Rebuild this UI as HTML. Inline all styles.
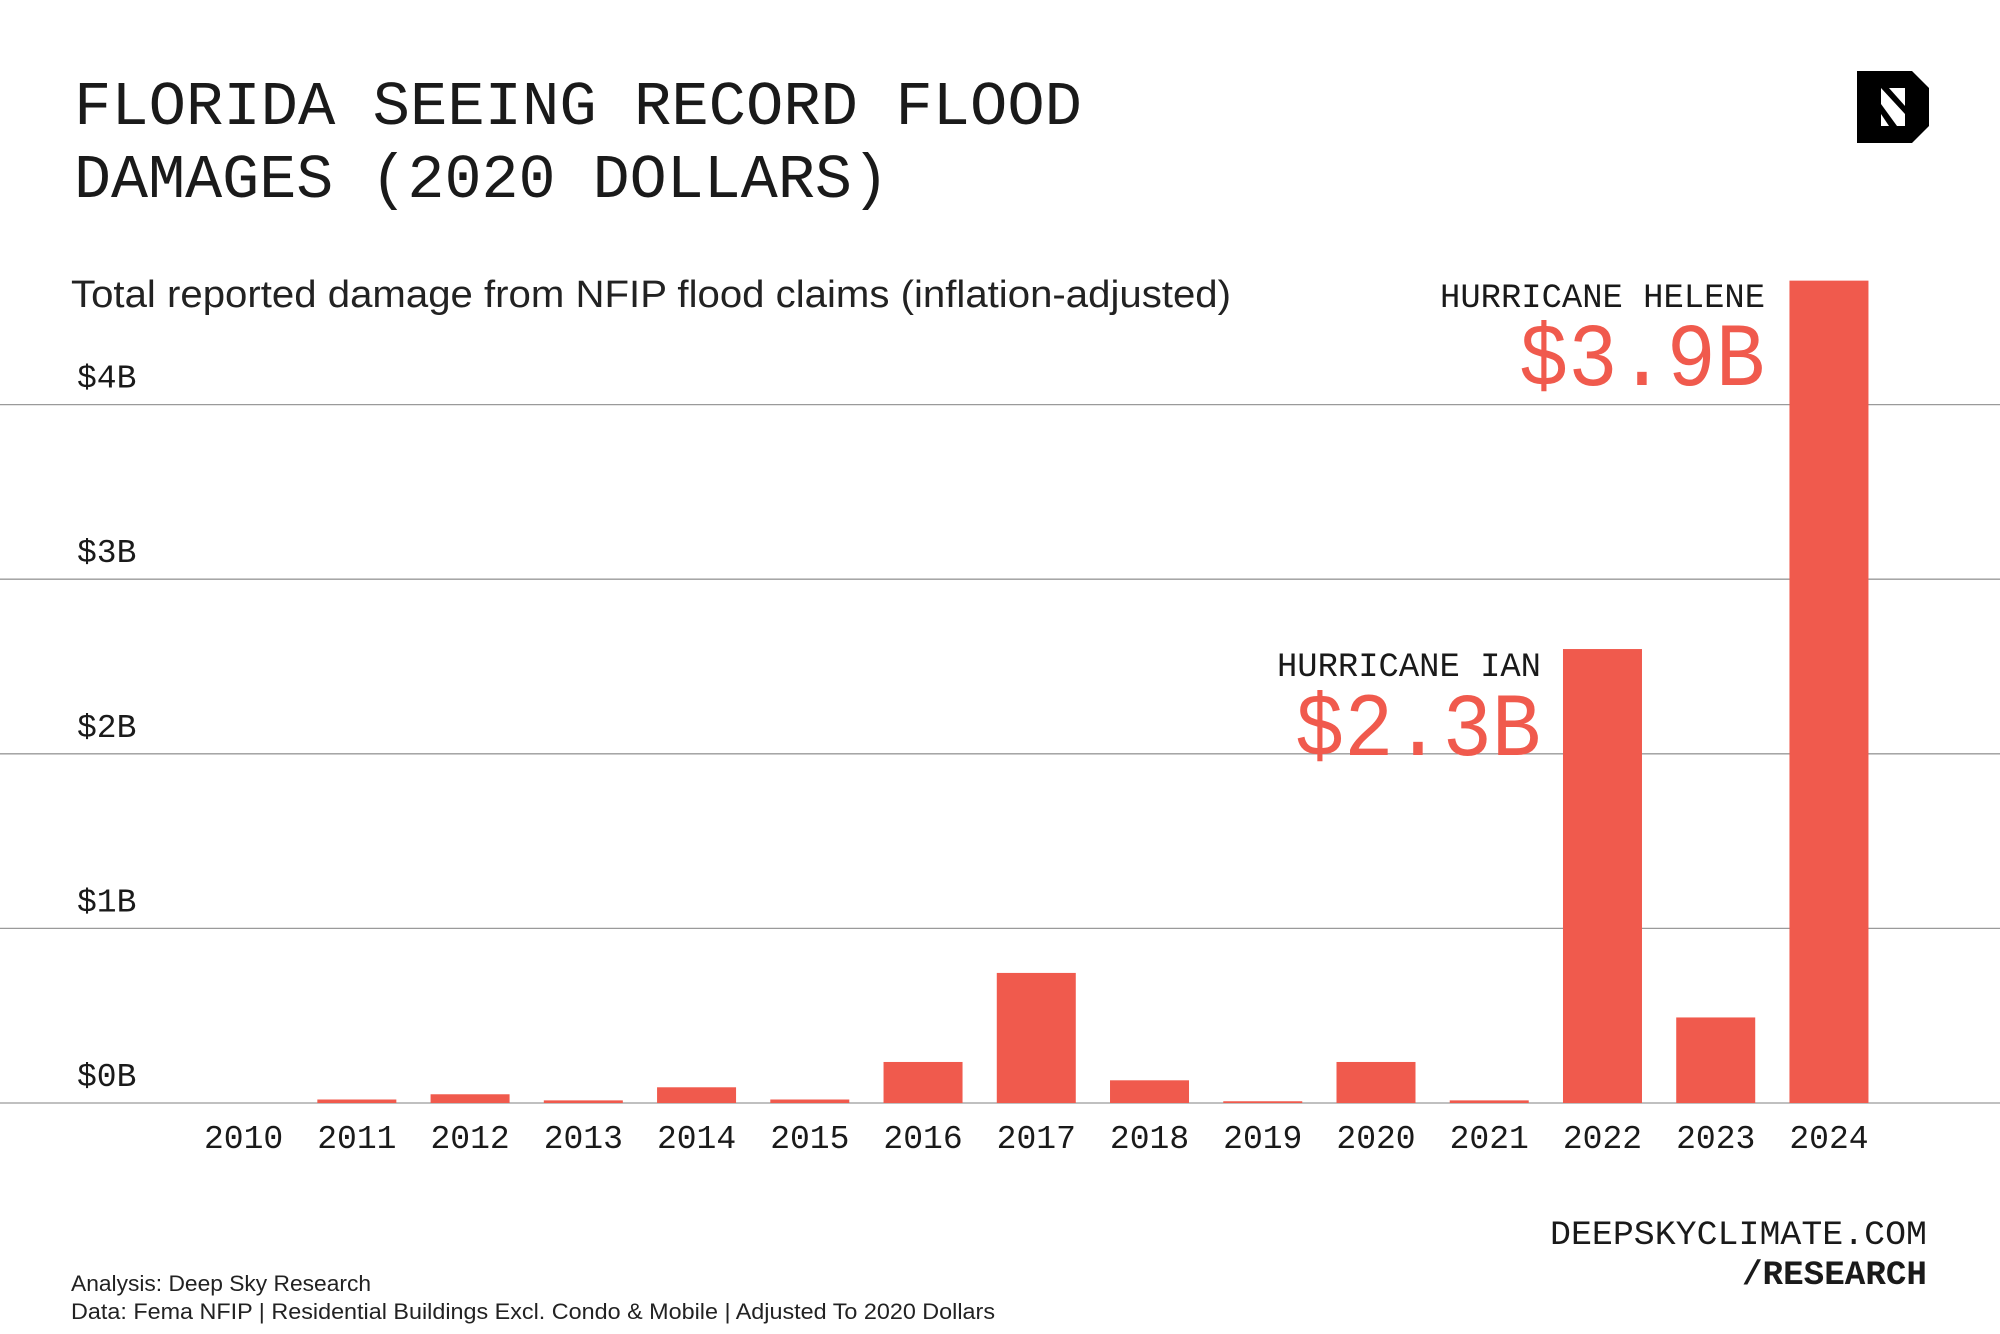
<!DOCTYPE html>
<html><head><meta charset="utf-8"><style>
html,body{margin:0;padding:0;background:#fff;}
svg{display:block;}
.mono{font-family:"Liberation Mono",monospace;}
.sans{font-family:"Liberation Sans",sans-serif;}
</style></head><body>
<svg id="chart" width="2000" height="1334" viewBox="0 0 2000 1334">
<text class="mono" x="74" y="124" font-size="62" fill="#1a1a1a" textLength="1008" lengthAdjust="spacingAndGlyphs">FLORIDA SEEING RECORD FLOOD</text>
<text class="mono" x="74" y="197" font-size="62" fill="#1a1a1a" textLength="815" lengthAdjust="spacingAndGlyphs">DAMAGES (2020 DOLLARS)</text>
<text class="sans" x="71" y="307" font-size="38" fill="#222" textLength="1160" lengthAdjust="spacingAndGlyphs">Total reported damage from NFIP flood claims (inflation-adjusted)</text>
<g>
<polygon points="1857,71 1912,71 1929,88 1929,126 1912,143 1857,143" fill="#000"/>
<rect x="1881" y="88" width="24" height="38" fill="#fff"/>
<polygon points="1881,88 1889,88 1905,106 1905,114" fill="#000"/>
<polygon points="1881,104 1897,126 1889,126 1881,114" fill="#000"/>
</g>
<g id="grid"></g><g id="bars"></g><g id="xlabels"></g>
<g>
<text class="mono" x="1765" y="307" font-size="34" fill="#1a1a1a" text-anchor="end" textLength="325" lengthAdjust="spacingAndGlyphs">HURRICANE HELENE</text>
<text class="mono" x="1765" y="385" font-size="90" fill="#f05a4d" text-anchor="end" textLength="246" lengthAdjust="spacingAndGlyphs">$3.9B</text>
</g>
<g>
<text class="mono" x="1541" y="676" font-size="34" fill="#1a1a1a" text-anchor="end" textLength="264" lengthAdjust="spacingAndGlyphs">HURRICANE IAN</text>
<text class="mono" x="1541" y="755" font-size="90" fill="#f05a4d" text-anchor="end" textLength="246" lengthAdjust="spacingAndGlyphs">$2.3B</text>
</g>
<text class="mono" x="1927" y="1244" font-size="34" fill="#1a1a1a" text-anchor="end" textLength="377" lengthAdjust="spacingAndGlyphs">DEEPSKYCLIMATE.COM</text>
<text class="mono" x="1927" y="1284" font-size="34" font-weight="bold" fill="#1a1a1a" text-anchor="end" textLength="185" lengthAdjust="spacingAndGlyphs">/RESEARCH</text>
<text class="sans" x="71" y="1291" font-size="22" fill="#222" textLength="300" lengthAdjust="spacingAndGlyphs">Analysis: Deep Sky Research</text>
<text class="sans" x="71" y="1319" font-size="22" fill="#222" textLength="924" lengthAdjust="spacingAndGlyphs">Data: Fema NFIP | Residential Buildings Excl. Condo &amp; Mobile | Adjusted To 2020 Dollars</text>
</svg>
<script>
const years = ["2010","2011","2012","2013","2014","2015","2016","2017","2018","2019","2020","2021","2022","2023","2024"];
const damageB = [0,0.02,0.05,0.015,0.09,0.02,0.235,0.745,0.13,0.01,0.235,0.015,2.6,0.49,4.71];
const yTicks = [0,1,2,3,4];
const yTickLabels = ["$0B","$1B","$2B","$3B","$4B"];
const NS="http://www.w3.org/2000/svg";
const y0=1103, perB=174.6;
const yScale=v=>y0-v*perB;
const x0=243.6, step=113.24;
const xScale=i=>x0+i*step;
const barW=79;
const grid=document.getElementById('grid');
yTicks.forEach((t,i)=>{
  const l=document.createElementNS(NS,'line');
  l.setAttribute('x1',0);l.setAttribute('x2',2000);
  l.setAttribute('y1',yScale(t));l.setAttribute('y2',yScale(t));
  l.setAttribute('stroke','#9a9a9a');l.setAttribute('stroke-width','1.3');
  
  
  grid.appendChild(l);
  const tx=document.createElementNS(NS,'text');
  tx.setAttribute('x',77);tx.setAttribute('y',yScale(t)-17);
  tx.setAttribute('class','mono');tx.setAttribute('font-size','33');tx.setAttribute('fill','#1a1a1a');
  tx.textContent=yTickLabels[i];
  
  
  grid.appendChild(tx);
});
const bars=document.getElementById('bars'), xl=document.getElementById('xlabels');
years.forEach((yr,i)=>{
  const v=damageB[i];
  const r=document.createElementNS(NS,'rect');
  r.setAttribute('x',xScale(i)-barW/2);r.setAttribute('width',barW);
  r.setAttribute('y',yScale(v));r.setAttribute('height',Math.max(0,y0-yScale(v)));
  r.setAttribute('fill','#f05a4d');
  
  
  bars.appendChild(r);
  const tx=document.createElementNS(NS,'text');
  tx.setAttribute('x',xScale(i));tx.setAttribute('y',1148);
  tx.setAttribute('text-anchor','middle');tx.setAttribute('class','mono');
  tx.setAttribute('font-size','33');tx.setAttribute('fill','#1a1a1a');
  tx.textContent=yr;
  
  
  xl.appendChild(tx);
});
</script>
</body></html>
